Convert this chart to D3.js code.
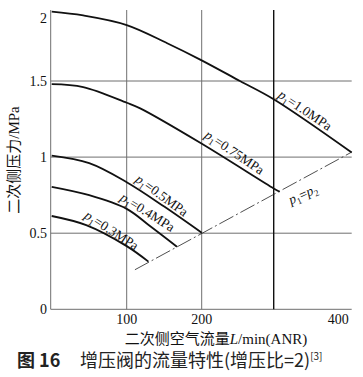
<!DOCTYPE html>
<html lang="zh">
<head>
<meta charset="UTF-8">
<script src="https://cdn.jsdelivr.net/npm/d3@7"></script>
<style>
  body { margin: 0; background: #fff; }
  svg { display: block; }
  .grid { stroke: #6f6f6f; stroke-width: 1; }
  .curve { fill: none; stroke: #111; stroke-width: 1.8; }
  .lbl { font-family: "Liberation Serif", "Noto Sans CJK SC", serif; fill: #111; }
</style>
</head>
<body>
<div id="chart"></div>
<script>
// axes
const xTicks = [100, 200, 400];
const yTicks = [0, 0.5, 1, 1.5, 2];
const markLine = 296;   // dark vertical reference line

// curves: [flow L/min, outlet pressure MPa]
const curve10  = [[0, 2.05], [42, 2.02], [100, 1.944], [154, 1.80], [198, 1.67], [251, 1.5], [296, 1.38], [400, 1.03]];
const curve075 = [[0, 1.479], [42, 1.46], [100, 1.357], [118, 1.32], [198, 1.094], [296, 0.794], [304, 0.772]];
const curve05  = [[0, 1.009], [50, 0.96], [100, 0.835], [150, 0.675], [200, 0.503]];
const curve04  = [[0, 0.805], [50, 0.75], [100, 0.66], [131, 0.547], [167, 0.411]];
const curve03  = [[0, 0.613], [46, 0.553], [100, 0.415], [129, 0.313]];
const ratioLine = [[111, 0.26], [400, 1.033]];

// curve labels: value, centre x, centre y, angle
const labelText  = ["1.0", "0.75", "0.5", "0.4", "0.3"];
const labelX     = [338, 244, 147, 128, 80];
const labelY     = [1.309, 1.033, 0.75, 0.64, 0.52];
const labelAngle = [34, 34, 36, 32, 33];

const W = 363, H = 377;
const svg = d3.select("#chart").append("svg").attr("width", W).attr("height", H);
svg.append("rect").attr("width", W).attr("height", H).attr("fill", "#fff");

const x = d3.scaleLinear().domain([0, 400]).range([51.7, 351.7]);
const y = d3.scaleLinear().domain([0, 1.5, 2]).range([309.3, 81, 18]);
const plotTop = 10, plotLeft = 50.7, plotRight = 351.7;

// grid
svg.selectAll(".hg").data([0.5, 1, 1.5]).enter().append("line")
  .attr("class", "grid")
  .attr("x1", plotLeft).attr("x2", plotRight)
  .attr("y1", d => y(d)).attr("y2", d => y(d));
svg.selectAll(".vg").data([100, 200]).enter().append("line")
  .attr("class", "grid")
  .attr("x1", d => x(d)).attr("x2", d => x(d))
  .attr("y1", plotTop).attr("y2", y(0));
svg.append("line").attr("class", "grid")
  .attr("x1", plotLeft).attr("x2", plotLeft).attr("y1", plotTop).attr("y2", y(0));
svg.append("line").attr("class", "grid")
  .attr("x1", plotLeft).attr("x2", plotRight).attr("y1", y(0)).attr("y2", y(0));
svg.append("line")
  .attr("x1", x(markLine)).attr("x2", x(markLine))
  .attr("y1", plotTop).attr("y2", y(0))
  .attr("stroke", "#111").attr("stroke-width", 1.4);

// tick labels
svg.selectAll(".yt").data(yTicks).enter().append("text")
  .attr("class", "lbl").attr("font-size", 14)
  .attr("x", 47).attr("y", d => y(d)).attr("dy", "0.35em")
  .attr("text-anchor", "end").text(d => d);
svg.selectAll(".xt").data(xTicks).enter().append("text")
  .attr("class", "lbl").attr("font-size", 14)
  .attr("x", d => d === 400 ? x(d) - 3 : x(d)).attr("y", 324)
  .attr("text-anchor", d => d === 400 ? "end" : "middle").text(d => d);

// curves
const line = d3.line().x(d => x(d[0])).y(d => y(d[1])).curve(d3.curveCatmullRom.alpha(0.5));
svg.selectAll(".curve").data([curve10, curve075, curve05, curve04, curve03]).enter()
  .append("path").attr("class", "curve").attr("d", line);

svg.append("path").datum(ratioLine)
  .attr("d", d3.line().x(d => x(d[0])).y(d => y(d[1])))
  .attr("fill", "none").attr("stroke", "#222").attr("stroke-width", 0.8)
  .attr("stroke-dasharray", "16,3,2,3");

// curve labels
labelText.forEach((t, i) => {
  const g = svg.append("g")
    .attr("transform", `translate(${x(labelX[i])},${y(labelY[i])}) rotate(${labelAngle[i]})`);
  const tx = g.append("text").attr("class", "lbl").attr("font-size", 13.5)
    .attr("text-anchor", "middle").attr("dy", "0.35em");
  tx.append("tspan").attr("font-style", "italic").text("p");
  tx.append("tspan").attr("font-size", 9).attr("dy", 3).text("1");
  tx.append("tspan").attr("dy", -3).text("=" + t + "MPa");
});
const gr = svg.append("g")
  .attr("transform", `translate(${x(335)},${y(0.757)}) rotate(-24)`);
const tr = gr.append("text").attr("class", "lbl").attr("font-size", 13.5)
  .attr("text-anchor", "middle").attr("dy", "0.35em");
tr.append("tspan").attr("font-style", "italic").text("p");
tr.append("tspan").attr("font-size", 9).attr("dy", 3).text("1");
tr.append("tspan").attr("dy", -3).text("=");
tr.append("tspan").attr("font-style", "italic").text("p");
tr.append("tspan").attr("font-size", 9).attr("dy", 3).text("2");

// axis titles
svg.append("text").attr("class", "lbl").attr("font-size", 15)
  .attr("transform", "translate(19,160) rotate(-90)")
  .attr("text-anchor", "middle").text("二次侧压力/MPa");
const xt = svg.append("text").attr("class", "lbl").attr("font-size", 15)
  .attr("x", 216).attr("y", 344).attr("text-anchor", "middle");
xt.append("tspan").text("二次侧空气流量");
xt.append("tspan").attr("font-style", "italic").text("L");
xt.append("tspan").text("/min(ANR)");

// caption
const cap = svg.append("text").attr("x", 17).attr("y", 367)
  .attr("font-family", "'Noto Sans CJK SC', sans-serif").attr("font-size", 18).attr("fill", "#222");
cap.append("tspan").attr("font-weight", 700).text("图 16");
cap.append("tspan").attr("x", 80).attr("font-weight", 400).text("增压阀的流量特性(增压比=2)");
cap.append("tspan").attr("font-size", 10).attr("dy", -7).text("[3]");
</script>
</body>
</html>
